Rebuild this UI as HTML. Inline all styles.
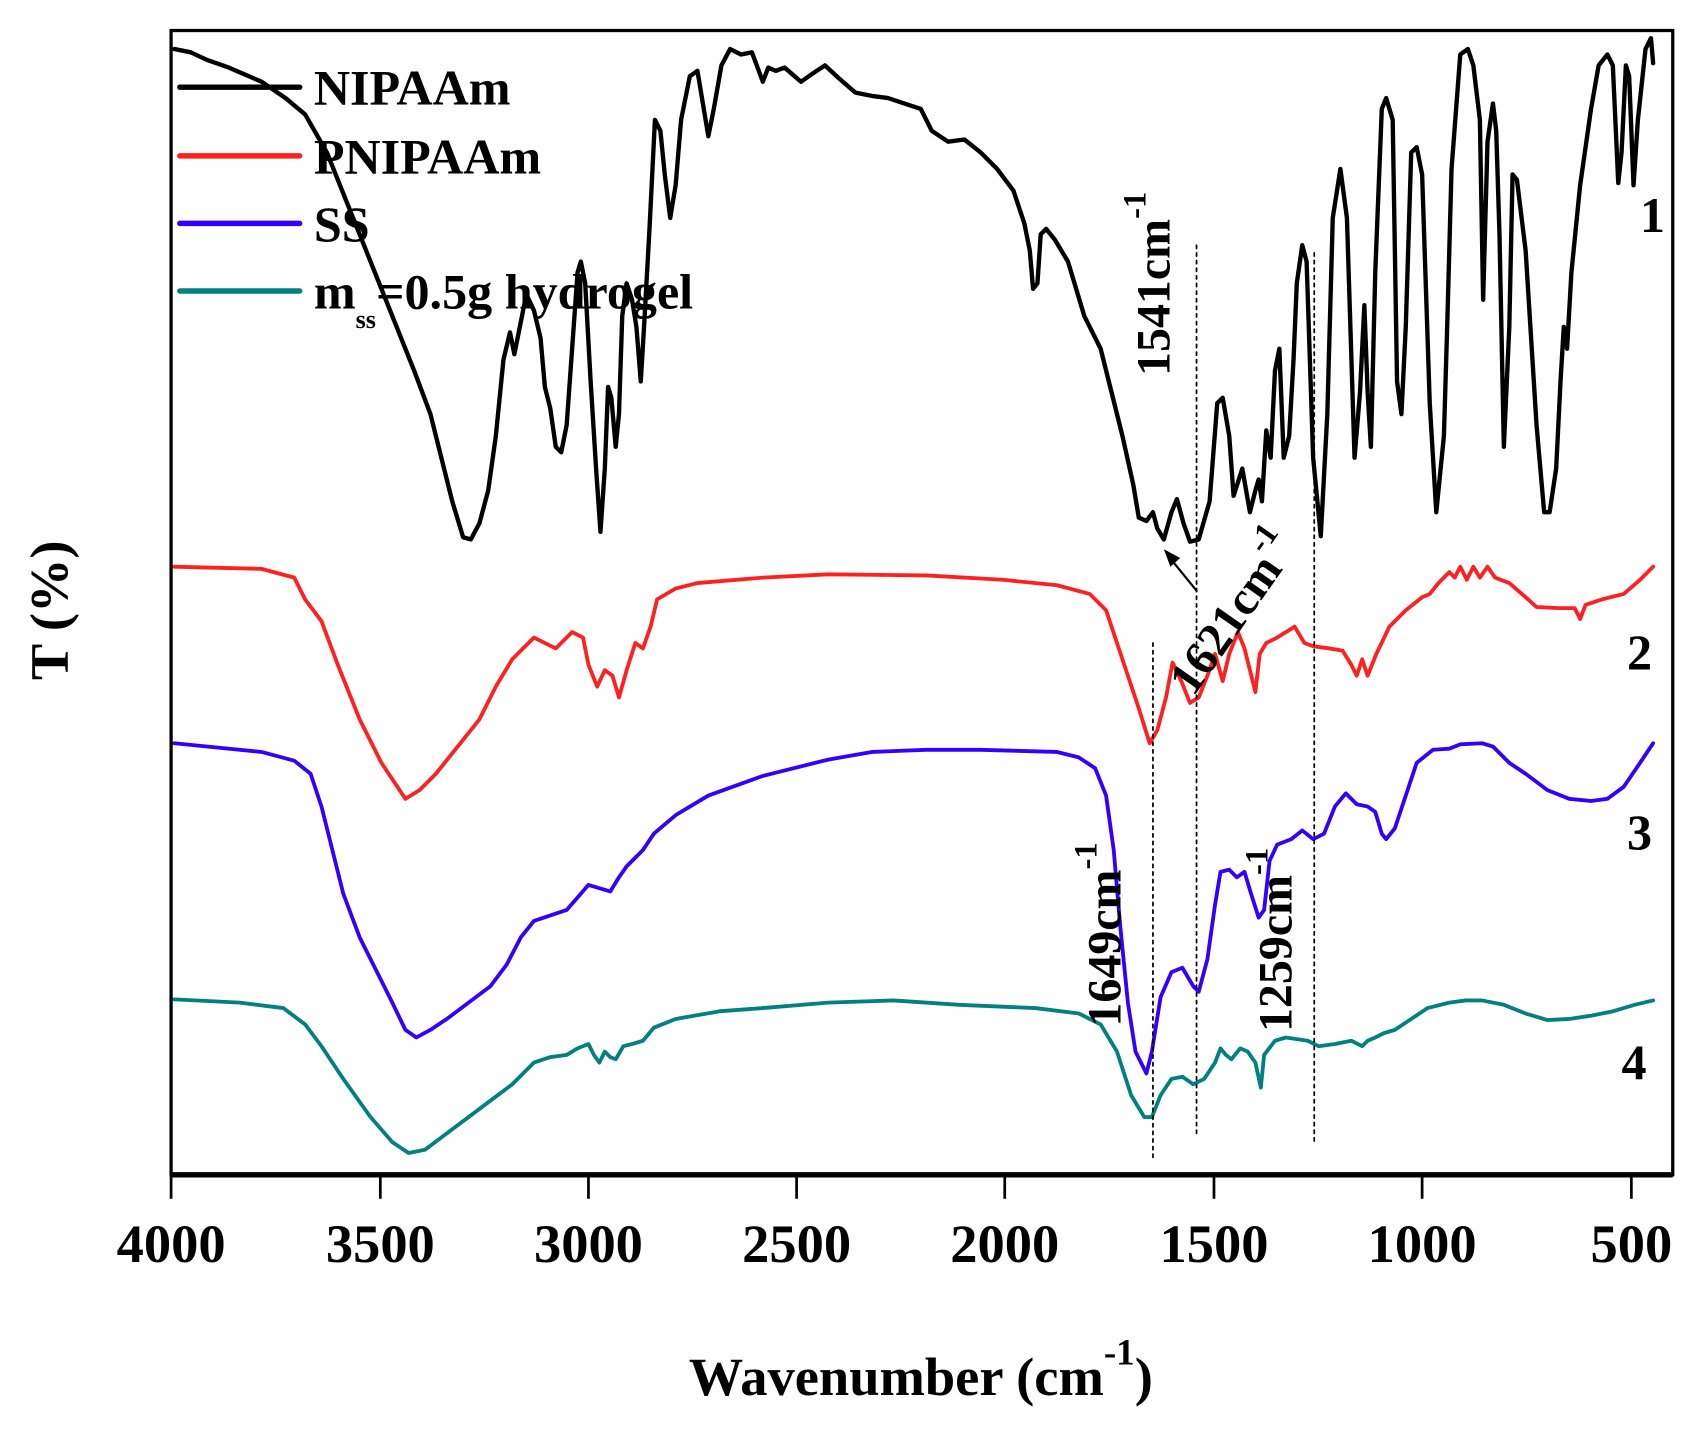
<!DOCTYPE html>
<html><head><meta charset="utf-8"><style>
html,body{margin:0;padding:0;background:#fff;}
svg{display:block;}
text{font-family:"Liberation Serif",serif;font-weight:bold;fill:#000;}
</style></head><body>
<svg width="1700" height="1432" viewBox="0 0 1560 1314" preserveAspectRatio="none" xmlns="http://www.w3.org/2000/svg">
<rect x="0" y="0" width="1560" height="1314" fill="#fff"/>
<g fill="none" stroke-linejoin="round" stroke-linecap="round">
<polyline stroke="#000" stroke-width="4" points="160,45 175,48 190,55 210,62 240,75 262,90 280,105 300,140 320,190 340,240 360,290 380,340 395,380 405,420 415,460 425,493 432,495 440,480 448,450 455,400 462,330 468,305 472,325 477,300 483,270 490,285 496,310 500,355 505,375 510,410 515,415 520,390 525,320 530,250 533,240 537,260 542,350 547,430 551,488 555,430 558,355 561,365 565,410 568,380 571,290 575,260 580,275 584,300 588,350 591,300 596,210 601,110 606,120 610,160 615,200 620,170 625,110 633,70 640,65 645,95 650,125 655,100 662,60 670,45 680,50 690,48 700,75 705,62 712,65 720,62 735,75 745,68 757,60 770,72 785,85 800,88 815,90 830,95 845,100 855,120 870,130 885,128 900,140 915,155 930,175 940,205 945,230 948,265 952,260 955,215 960,210 968,220 980,240 995,290 1010,320 1020,360 1030,400 1040,445 1045,475 1052,478 1058,470 1062,485 1068,495 1075,470 1080,458 1086,480 1092,497 1100,495 1110,460 1117,370 1122,365 1128,400 1132,455 1140,430 1147,470 1152,450 1155,440 1158,460 1162,395 1166,420 1170,340 1174,320 1178,420 1183,400 1187,330 1190,260 1195,225 1199,240 1205,420 1212,492 1218,380 1223,200 1230,155 1236,200 1243,420 1248,360 1252,280 1255,360 1258,410 1262,250 1268,100 1272,90 1278,110 1282,350 1286,380 1290,300 1295,140 1300,135 1305,160 1312,370 1318,470 1325,400 1328,300 1332,155 1340,50 1347,45 1352,60 1358,110 1361,275 1365,130 1370,95 1373,120 1376,215 1380,410 1385,300 1388,160 1392,165 1400,230 1410,390 1417,470 1422,470 1428,430 1432,350 1435,300 1438,320 1442,250 1450,170 1460,100 1467,60 1475,50 1480,60 1485,168 1488,140 1492,60 1495,70 1499,170 1503,110 1510,45 1515,35 1517,58"/>
<polyline stroke="#ff2020" stroke-width="3.5" points="160,520 200,521 240,522 270,530 280,550 295,570 310,610 330,660 350,700 372,733 385,725 400,710 420,685 440,660 455,630 470,605 490,585 510,595 525,580 535,585 540,610 548,630 555,615 562,620 568,640 575,615 583,590 590,595 597,575 603,550 620,540 640,535 700,530 760,527 850,528 920,532 970,537 1000,545 1015,560 1025,590 1035,620 1045,650 1055,682 1062,670 1070,640 1076,608 1084,625 1092,645 1100,640 1108,620 1115,600 1122,625 1128,600 1136,580 1142,595 1147,615 1152,635 1156,600 1162,590 1172,585 1180,580 1188,575 1197,590 1205,593 1220,595 1232,597 1240,610 1245,620 1250,605 1255,620 1263,600 1275,575 1290,560 1305,548 1312,545 1320,535 1330,525 1335,530 1340,520 1346,532 1352,520 1358,530 1365,520 1372,530 1385,535 1400,548 1410,557 1430,558 1445,558 1450,568 1455,555 1470,550 1490,545 1505,532 1517,520"/>
<polyline stroke="#3300ff" stroke-width="3.5" points="160,682 200,686 240,690 270,698 285,710 295,740 305,780 315,820 330,860 345,890 360,920 372,945 382,952 395,945 410,935 430,920 450,905 465,885 478,860 490,845 505,840 520,835 540,812 550,815 560,818 568,805 575,795 590,780 600,765 620,748 650,730 700,712 760,697 800,690 850,688 900,688 970,690 990,695 1005,705 1015,730 1022,780 1028,850 1035,920 1042,965 1052,985 1057,965 1065,915 1075,892 1085,888 1095,905 1100,910 1108,880 1115,830 1120,800 1128,798 1135,805 1142,800 1148,820 1155,842 1160,835 1165,790 1172,775 1185,770 1195,762 1205,770 1215,765 1225,740 1235,728 1245,738 1255,740 1262,745 1268,765 1272,770 1280,760 1290,730 1300,700 1315,688 1330,687 1340,683 1360,682 1370,685 1385,700 1400,710 1420,725 1440,733 1460,735 1475,733 1490,722 1505,700 1517,682"/>
<polyline stroke="#008080" stroke-width="3.5" points="160,917 220,920 260,925 280,940 295,960 315,990 340,1025 360,1048 375,1058 390,1055 410,1040 430,1025 450,1010 470,995 490,975 505,970 520,968 530,962 540,958 545,968 550,975 555,965 560,970 565,972 572,960 580,958 590,955 600,943 620,935 660,928 700,925 760,920 820,918 880,922 950,925 990,930 1010,940 1025,965 1038,1005 1050,1025 1057,1025 1065,1005 1075,990 1085,988 1095,995 1105,990 1115,975 1120,962 1125,968 1130,972 1138,962 1145,965 1152,975 1157,998 1160,968 1170,955 1180,952 1200,955 1210,960 1225,958 1240,955 1250,960 1255,955 1262,952 1270,948 1280,945 1295,935 1310,925 1330,920 1345,918 1360,918 1380,922 1400,930 1420,936 1440,935 1460,932 1480,928 1500,922 1517,918"/>
<g stroke="#000" stroke-width="1.6" stroke-dasharray="3,4">
<line x1="1058" y1="590" x2="1058" y2="1062"/>
<line x1="1098" y1="225" x2="1098" y2="1040"/>
<line x1="1206" y1="232" x2="1206" y2="1048"/>
</g>
<line x1="1098" y1="542" x2="1076" y2="515" stroke="#000" stroke-width="2"/>
</g>
<polygon points="1068,504 1083,512 1074,520" fill="#000"/>
<rect x="157" y="28" width="1378" height="1050" fill="none" stroke="#000" stroke-width="3"/>
<line x1="157" y1="1078" x2="1535" y2="1078" stroke="#000" stroke-width="5"/>
<g stroke="#000" stroke-width="2.5">
<line x1="157" y1="1078" x2="157" y2="1100"/><line x1="349" y1="1078" x2="349" y2="1100"/>
<line x1="540" y1="1078" x2="540" y2="1100"/><line x1="731" y1="1078" x2="731" y2="1100"/>
<line x1="922" y1="1078" x2="922" y2="1100"/><line x1="1114" y1="1078" x2="1114" y2="1100"/>
<line x1="1305" y1="1078" x2="1305" y2="1100"/><line x1="1497" y1="1078" x2="1497" y2="1100"/>
</g>
<g font-size="50" text-anchor="middle">
<text x="157" y="1158">4000</text><text x="349" y="1158">3500</text><text x="540" y="1158">3000</text>
<text x="731" y="1158">2500</text><text x="922" y="1158">2000</text><text x="1114" y="1158">1500</text>
<text x="1305" y="1158">1000</text><text x="1497" y="1158">500</text>
</g>
<text x="845" y="1280" font-size="50" text-anchor="middle">Wavenumber (cm<tspan font-size="34" dy="-28">-1</tspan><tspan dy="28">)</tspan></text>
<text transform="translate(62,560) rotate(-90)" font-size="50" text-anchor="middle">T (%)</text>
<g stroke-width="5" stroke-linecap="round">
<line x1="165" y1="80" x2="275" y2="80" stroke="#000"/>
<line x1="165" y1="143" x2="275" y2="143" stroke="#ff2020"/>
<line x1="165" y1="205" x2="275" y2="205" stroke="#3300ff"/>
<line x1="165" y1="267" x2="275" y2="267" stroke="#008080"/>
</g>
<g font-size="46">
<text x="288" y="96">NIPAAm</text>
<text x="288" y="159">PNIPAAm</text>
<text x="288" y="221">SS</text>
<text x="288" y="283">m<tspan font-size="24" dy="18">ss</tspan><tspan dy="-18">=0.5g hydrogel</tspan></text>
</g>
<g font-size="46">
<text x="1505" y="213">1</text><text x="1493" y="614">2</text>
<text x="1493" y="779">3</text><text x="1488" y="990">4</text>
</g>
<g font-size="44">
<text transform="translate(1073,345) rotate(-90)">1541cm<tspan font-size="30" dy="-22">-1</tspan></text>
<text transform="translate(1028,942) rotate(-90)">1649cm<tspan font-size="30" dy="-22">-1</tspan></text>
<text transform="translate(1185,947) rotate(-90)">1259cm<tspan font-size="30" dy="-22">-1</tspan></text>
<text transform="translate(1095,640) rotate(-55)">1621cm<tspan font-size="30" dy="-22">-1</tspan></text>
</g>
</svg>
</body></html>
